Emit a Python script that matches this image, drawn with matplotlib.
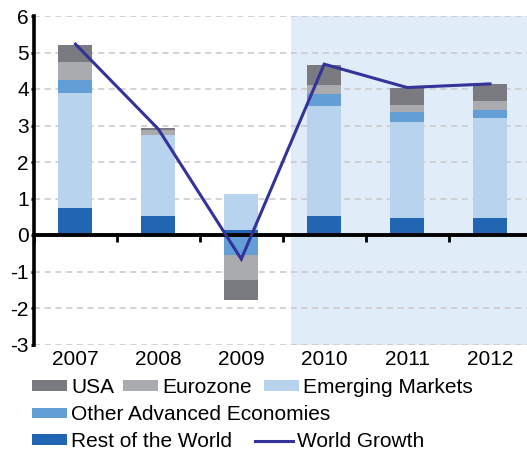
import numpy as np
import matplotlib
matplotlib.use("Agg")
import matplotlib.pyplot as plt
from matplotlib.patches import Patch
from matplotlib.lines import Line2D

plt.rcParams['font.family'] = ['Liberation Sans', 'DejaVu Sans']

years = ['2007', '2008', '2009', '2010', '2011', '2012']
rest_world = [0.75, 0.53, 0.13, 0.53, 0.47, 0.47]
emerging = [3.15, 2.22, 1.00, 3.01, 2.63, 2.74]
other_adv = [0.36, 0.00, -0.54, 0.33, 0.28, 0.22]
eurozone = [0.49, 0.12, -0.68, 0.25, 0.19, 0.25]
usa = [0.46, 0.07, -0.55, 0.54, 0.47, 0.46]
world_growth = [5.23, 2.90, -0.66, 4.68, 4.04, 4.14]
yticks = [-3, -2, -1, 0, 1, 2, 3, 4, 5, 6]
forecast_start = 2.6

series = [
    ('Rest of the World', rest_world, '#2266b3'),
    ('Emerging Markets', emerging, '#b8d3ee'),
    ('Other Advanced Economies', other_adv, '#639ed6'),
    ('Eurozone', eurozone, '#a9abae'),
    ('USA', usa, '#7a7b80'),
]
line_color = '#333399'
FS = 15

W, H = 527, 454
fig = plt.figure(figsize=(W / 100, H / 100), dpi=100)
ax = fig.add_axes([34 / W, (H - 344.5) / H, (W - 34) / W, (344.5 - 16) / H])

x = np.arange(len(years))
pos_bottom = np.zeros(len(years))
neg_bottom = np.zeros(len(years))
handles = {}
for name, vals, col in series:
    v = np.array(vals, dtype=float)
    bottom = np.where(v >= 0, pos_bottom, neg_bottom)
    ax.bar(x, v, width=0.41, bottom=bottom, color=col, edgecolor='none', zorder=2)
    pos_bottom = pos_bottom + np.where(v >= 0, v, 0)
    neg_bottom = neg_bottom + np.where(v < 0, v, 0)
    handles[name] = Patch(facecolor=col, edgecolor='none')

ax.plot(x, world_growth, color=line_color, lw=2.2, zorder=5, solid_joinstyle='miter')
handles['World Growth'] = Line2D([], [], color=line_color, lw=2.2)

ax.axvspan(forecast_start, 6, color='#e0ecf8', zorder=0, lw=0)

ax.set_xlim(-0.5, (W - 75) / 83)
ax.set_ylim(-3, 6)
ax.set_yticks(yticks)
ax.set_yticklabels([str(t) for t in yticks], fontsize=FS)
ax.set_xticks(x)
ax.set_xticklabels(years, fontsize=FS)
ax.tick_params(axis='x', length=0, pad=4)
ax.tick_params(axis='y', direction='out', length=2.5, width=2, pad=1.2)
for t in yticks:
    ax.axhline(t, color='#c8c8c8', lw=1.1, ls=(0, (4, 3)), zorder=1)
for s in ['top', 'right', 'bottom']:
    ax.spines[s].set_visible(False)
ax.spines['left'].set_linewidth(2.6)

sec = ax.secondary_xaxis(0, transform=ax.transData)
sec.set_xticks(np.arange(len(years) + 1) - 0.5)
sec.tick_params(axis='x', direction='out', length=5, width=2, labelbottom=False)
sec.spines['bottom'].set_linewidth(2.8)
sec.set_zorder(3)

legend_items = [
    ('USA', 32, 387.5),
    ('Eurozone', 122.7, 387.5),
    ('Emerging Markets', 264, 387.5),
    ('Other Advanced Economies', 32, 415),
    ('Rest of the World', 32, 441.5),
    ('World Growth', 255, 441.5),
]
for name, px, py in legend_items:
    hl = 38 * 0.72 / FS if name == 'World Growth' else 35 * 0.72 / FS
    fig.legend(handles=[handles[name]], labels=[name], loc='center left',
               bbox_to_anchor=(px / W, 1 - py / H), frameon=False,
               borderpad=0, borderaxespad=0, handlelength=hl,
               handleheight=8.4 * 0.72 / FS, handletextpad=0.2, fontsize=FS)

fig.savefig('out.png', dpi=100)
